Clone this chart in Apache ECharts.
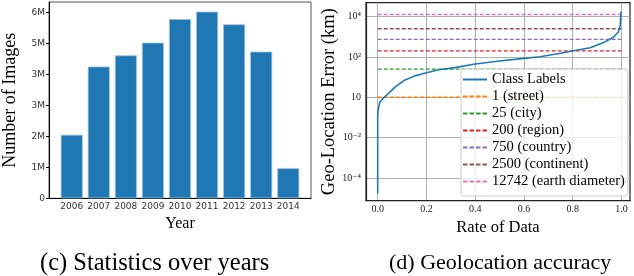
<!DOCTYPE html>
<html>
<head>
<meta charset="utf-8">
<script src="https://cdn.jsdelivr.net/npm/echarts@6/dist/echarts.min.js"></script>
<style>
html,body{margin:0;padding:0;background:#fff;}
#c{width:634px;height:276px;}
</style>
</head>
<body>
<div id="c"></div>
<script>
// ---- Left panel: images per year (millions) ----
var years = [2006, 2007, 2008, 2009, 2010, 2011, 2012, 2013, 2014];
var imagesM = [2.05, 4.25, 4.61, 5.02, 5.78, 6.02, 5.61, 4.73, 0.97];
var leftTickValues = [0, 1, 2, 3, 4, 5, 6];
var leftTickLabels = ['0', '1M', '2M', '3M', '3M', '5M', '6M'];

// ---- Right panel: geolocation error curve ----
var rateData = [0, 0, 0, 0.002, 0.009, 0.03, 0.071, 0.112, 0.153, 0.2, 0.25, 0.317, 0.4, 0.5, 0.6, 0.666, 0.75, 0.803, 0.872, 0.926, 0.967, 0.988, 0.995, 0.998];
var errorKm = [1.7e-5, 1e-3, 0.13, 0.23, 0.6, 1.07, 3.16, 7.2, 11.5, 16.6, 23, 29.5, 44.7, 63, 85, 102, 151, 204, 288, 513, 955, 1778, 3890, 17800];
var thresholdNames = ['1 (street)', '25 (city)', '200 (region)', '750 (country)', '2500 (continent)', '12742 (earth diameter)'];
var thresholdValues = [1, 25, 200, 750, 2500, 12742];
var thresholdColors = ['#ff7f0e', '#2ca02c', '#d62728', '#9467bd', '#8c564b', '#e377c2'];
var rightXTicks = [0, 0.2, 0.4, 0.6, 0.8, 1.0];
var rightYTicks = [1e-4, 1e-2, 1, 1e2, 1e4];
var rightYLabels = ['10\u207B\u2074', '10\u207B\u00B2', '10', '10\u00B2', '10\u2074'];

var serif = '"Liberation Serif", "DejaVu Serif", serif';
var sans = '"DejaVu Sans", sans-serif';

var SOLID_ICON = 'path://M0 0H24V2H0Z';
var DASH_ICON = 'path://M0 0H4.5V2H0Z M6.5 0H11V2H6.5Z M13 0H17.5V2H13Z M19.5 0H24V2H19.5Z';

var chart = echarts.init(document.getElementById('c'), null, {renderer: 'canvas'});

var series = [
  {
    type: 'bar', xAxisIndex: 0, yAxisIndex: 0,
    data: years.map(function (y, i) { return [y, imagesM[i]]; }),
    barWidth: 22,
    itemStyle: {color: '#1f77b4', borderColor: '#9cc1e0', borderWidth: 0.8},
    silent: true, animation: false
  },
  {
    name: 'Class Labels', type: 'line', xAxisIndex: 1, yAxisIndex: 1,
    data: rateData.map(function (x, i) { return [x, errorKm[i]]; }),
    symbol: 'none', lineStyle: {color: '#1f77b4', width: 1.6},
    itemStyle: {color: '#1f77b4'}, z: 5, animation: false
  }
];
thresholdValues.forEach(function (v, i) {
  series.push({
    name: thresholdNames[i], type: 'line', xAxisIndex: 1, yAxisIndex: 1,
    data: [[0, v], [1, v]],
    symbol: 'none',
    lineStyle: {color: thresholdColors[i], width: 1.3, type: [4, 2]},
    itemStyle: {color: thresholdColors[i]}, z: 3, animation: false
  });
});

var legendData = [{name: 'Class Labels', icon: SOLID_ICON, itemStyle: {color: '#1f77b4', borderWidth: 0, opacity: 1}}];
thresholdNames.forEach(function (n, i) {
  legendData.push({name: n, icon: DASH_ICON, itemStyle: {color: thresholdColors[i], borderWidth: 0, opacity: 1}});
});

var option = {
  backgroundColor: '#fff',
  animation: false,
  title: [
    {text: '(c) Statistics over years', left: 40, top: 251,
     textStyle: {fontFamily: serif, fontSize: 24.5, fontWeight: 'normal', color: '#000'}, padding: 0},
    {text: '(d) Geolocation accuracy', left: 389, top: 252,
     textStyle: {fontFamily: serif, fontSize: 22, fontWeight: 'normal', color: '#000'}, padding: 0}
  ],
  grid: [
    {left: 46, top: 2, width: 265, height: 196.3, show: true, borderColor: '#555', borderWidth: 1, backgroundColor: 'transparent'},
    {left: 366, top: 2.7, width: 264, height: 198, show: true, borderColor: '#222', borderWidth: 1.2, backgroundColor: 'transparent'}
  ],
  xAxis: [
    {
      type: 'value', gridIndex: 0, min: 2005.16, max: 2014.84,
      name: 'Year', nameLocation: 'middle', nameGap: 17,
      nameTextStyle: {fontFamily: serif, fontSize: 16, color: '#000'},
      axisLine: {show: true, onZero: false, lineStyle: {color: '#000', width: 1}},
      axisTick: {show: false, customValues: years},
      axisLabel: {customValues: years, fontFamily: sans, fontSize: 9, color: '#333', margin: 4,
                  formatter: function (v) { return String(Math.round(v)); }},
      splitLine: {show: false}
    },
    {
      type: 'value', gridIndex: 1, min: -0.048, max: 1.035,
      name: 'Rate of Data', nameLocation: 'middle', nameGap: 16,
      nameTextStyle: {fontFamily: serif, fontSize: 16.5, color: '#000'},
      axisLine: {show: true, onZero: false, lineStyle: {color: '#222', width: 1.2}},
      axisTick: {show: false, customValues: rightXTicks},
      axisLabel: {customValues: rightXTicks, fontFamily: serif, fontSize: 10, color: '#222', margin: 4,
                  formatter: function (v) { return v.toFixed(1); }},
      splitLine: {show: true, lineStyle: {color: '#b0b0b0', width: 1}}
    }
  ],
  yAxis: [
    {
      type: 'value', gridIndex: 0, min: 0, max: 6.33,
      name: 'Number of Images', nameLocation: 'middle', nameGap: 30,
      nameTextStyle: {fontFamily: serif, fontSize: 18, color: '#000'},
      axisLine: {show: true, onZero: false, lineStyle: {color: '#000', width: 1}},
      axisTick: {show: true, length: 3, customValues: leftTickValues, lineStyle: {color: '#000'}},
      axisLabel: {customValues: leftTickValues, fontFamily: sans, fontSize: 9, color: '#333', margin: 4,
                  formatter: function (v) { var i = leftTickValues.indexOf(Math.round(v)); return i >= 0 ? leftTickLabels[i] : ''; }},
      splitLine: {show: false}
    },
    {
      type: 'log', logBase: 10, gridIndex: 1, min: 7.4e-6, max: 48978,
      name: 'Geo-Location Error (km)', nameLocation: 'middle', nameGap: 24,
      nameTextStyle: {fontFamily: serif, fontSize: 18.5, color: '#000'},
      axisLine: {show: true, onZero: false, lineStyle: {color: '#222', width: 1.2}},
      axisTick: {show: false, customValues: rightYTicks},
      axisLabel: {customValues: rightYTicks, fontFamily: serif, fontSize: 10, color: '#222', margin: 5,
                  formatter: function (v) {
                    for (var i = 0; i < rightYTicks.length; i++) {
                      if (Math.abs(Math.log10(v) - Math.log10(rightYTicks[i])) < 1e-6) return rightYLabels[i];
                    }
                    return '';
                  }},
      splitLine: {show: true, lineStyle: {color: '#b0b0b0', width: 1}}
    }
  ],
  legend: {
    orient: 'vertical', left: 461, top: 69,
    data: legendData,
    symbolKeepAspect: false,
    itemWidth: 24, itemHeight: 2, itemGap: 2, itemTextGap: 4,
    padding: [3, 3, 7, 2],
    backgroundColor: 'rgba(255,255,255,0.8)', borderColor: '#ccc', borderWidth: 1, borderRadius: 3,
    textStyle: {fontFamily: serif, fontSize: 14.5, lineHeight: 15, color: '#000'},
    selectedMode: false
  },
  series: series
};
chart.setOption(option);
</script>
</body>
</html>
